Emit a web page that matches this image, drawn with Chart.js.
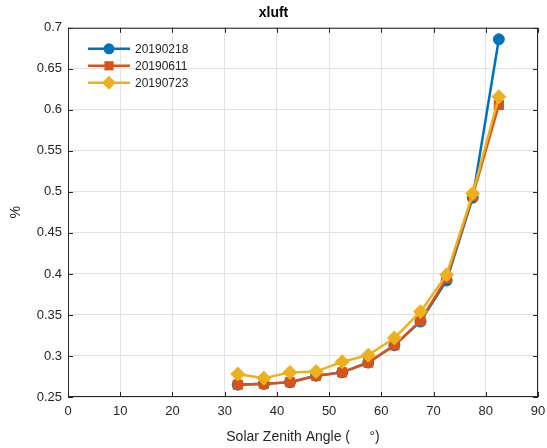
<!DOCTYPE html>
<html>
<head>
<meta charset="utf-8">
<title>xluft</title>
<script src="https://cdn.jsdelivr.net/npm/chart.js@4"></script>
<style>
  html, body { margin: 0; padding: 0; background: #fff; }
  #wrap { width: 547px; height: 448px; }
</style>
</head>
<body>
<div id="wrap"><canvas id="xluftChart" width="547" height="448"></canvas></div>
<script>
// Solar zenith angle bins (deg)
const angles = [32.5, 37.5, 42.5, 47.5, 52.5, 57.5, 62.5, 67.5, 72.5, 77.5, 82.5];

// xluft (%) per day
const feb18 = [0.265, 0.266, 0.268, 0.276, 0.280, 0.292, 0.313, 0.342, 0.392, 0.493, 0.686];
const jun11 = [0.265, 0.266, 0.268, 0.276, 0.280, 0.292, 0.313, 0.343, 0.395, 0.495, 0.606];
const jul23 = [0.278, 0.273, 0.280, 0.281, 0.293, 0.301, 0.322, 0.354, 0.399, 0.498, 0.616];

const seriesNames = ['20190218', '20190611', '20190723'];
const xTicks = [0, 10, 20, 30, 40, 50, 60, 70, 80, 90];
const yTicks = [0.25, 0.3, 0.35, 0.4, 0.45, 0.5, 0.55, 0.6, 0.65, 0.7];

const axisColor = '#262626';
const gridColor = '#e3e3e3';
const fontFamily = '"Liberation Sans", Arial, Helvetica, sans-serif';

function toPoints(ys) {
    return angles.map((a, i) => ({ x: a, y: ys[i] }));
}

// later series are drawn on top of earlier ones
function makeSet(label, ys, color, style, radius, order) {
    return {
        label: label,
        data: toPoints(ys),
        showLine: true,
        order: order,
        borderColor: color,
        backgroundColor: color,
        borderWidth: 2.5,
        pointStyle: style,
        pointRadius: radius,
        pointHoverRadius: radius,
        pointBorderWidth: 1,
        pointBorderColor: color
    };
}

// box around the axes with inward ticks on all four sides, plus the legend
const axesBox = {
    id: 'axesBox',
    afterDraw(chart) {
        const { ctx, chartArea: a, scales } = chart;
        ctx.save();
        ctx.strokeStyle = axisColor;
        ctx.lineWidth = 1;
        ctx.strokeRect(a.left + 0.5, a.top + 0.5, a.right - a.left - 1, a.bottom - a.top - 1);
        const t = 5;
        ctx.beginPath();
        xTicks.forEach(v => {
            const px = Math.round(scales.x.getPixelForValue(v)) + 0.5;
            ctx.moveTo(px, a.bottom); ctx.lineTo(px, a.bottom - t);
            ctx.moveTo(px, a.top); ctx.lineTo(px, a.top + t);
        });
        yTicks.forEach(v => {
            const py = Math.round(scales.y.getPixelForValue(v)) + 0.5;
            ctx.moveTo(a.left, py); ctx.lineTo(a.left + t, py);
            ctx.moveTo(a.right, py); ctx.lineTo(a.right - t, py);
        });
        ctx.stroke();

        // legend entries: line with marker, then label
        const x0 = a.left + 20, x1 = a.left + 62, y0 = a.top + 21, dy = 17;
        ctx.font = '12px ' + fontFamily;
        ctx.textBaseline = 'middle';
        chart.data.datasets.forEach((ds, i) => {
            const y = y0 + i * dy;
            ctx.strokeStyle = ds.borderColor;
            ctx.lineWidth = ds.borderWidth;
            ctx.beginPath();
            ctx.moveTo(x0, y); ctx.lineTo(x1, y);
            ctx.stroke();
            ctx.fillStyle = ds.backgroundColor;
            Chart.helpers.drawPoint(ctx, {
                pointStyle: ds.pointStyle,
                radius: ds.pointRadius,
                rotation: 0,
                borderWidth: 0
            }, (x0 + x1) / 2, y);
            ctx.fillStyle = axisColor;
            ctx.fillText(ds.label, x1 + 5, y + 1);
        });
        ctx.restore();
    }
};

new Chart(document.getElementById('xluftChart'), {
    type: 'scatter',
    data: {
        datasets: [
            makeSet(seriesNames[0], feb18, '#0072BD', 'circle', 5.5, 3),
            makeSet(seriesNames[1], jun11, '#D95319', 'rect', 6.5, 2),
            makeSet(seriesNames[2], jul23, '#EDB120', 'rectRot', 7, 1)
        ]
    },
    options: {
        responsive: false,
        animation: false,
        layout: { padding: { top: 0, right: 0, bottom: 0, left: 0 } },
        plugins: {
            legend: { display: false },
            tooltip: { enabled: false },
            title: {
                display: true,
                text: 'xluft',
                color: '#000',
                font: { family: fontFamily, size: 14, weight: 'bold' },
                padding: { top: 5, bottom: 6 }
            }
        },
        scales: {
            x: {
                type: 'linear',
                min: 0,
                max: 90,
                afterBuildTicks: s => { s.ticks = xTicks.map(v => ({ value: v })); },
                afterFit: s => { s.height = 51; s.paddingRight = 9; s.paddingLeft = 0; },
                grid: { color: gridColor, drawTicks: false },
                border: { display: false },
                ticks: {
                    color: axisColor,
                    padding: 7,
                    maxRotation: 0,
                    font: { family: fontFamily, size: 13 }
                },
                title: {
                    display: true,
                    text: 'Solar Zenith Angle (     °)',
                    color: axisColor,
                    padding: { top: 0, bottom: 2 },
                    font: { family: fontFamily, size: 14 }
                }
            },
            y: {
                type: 'linear',
                min: 0.25,
                max: 0.7,
                afterBuildTicks: s => { s.ticks = yTicks.map(v => ({ value: v })); },
                afterFit: s => { s.width = 68; },
                grid: { color: gridColor, drawTicks: false },
                border: { display: false },
                ticks: {
                    color: axisColor,
                    padding: 6,
                    font: { family: fontFamily, size: 13 },
                    callback: v => String(+v.toFixed(2))
                },
                title: {
                    display: true,
                    text: '%',
                    color: axisColor,
                    padding: { top: 8, bottom: 0 },
                    font: { family: fontFamily, size: 14 }
                }
            }
        }
    },
    plugins: [axesBox]
});
</script>
</body>
</html>
